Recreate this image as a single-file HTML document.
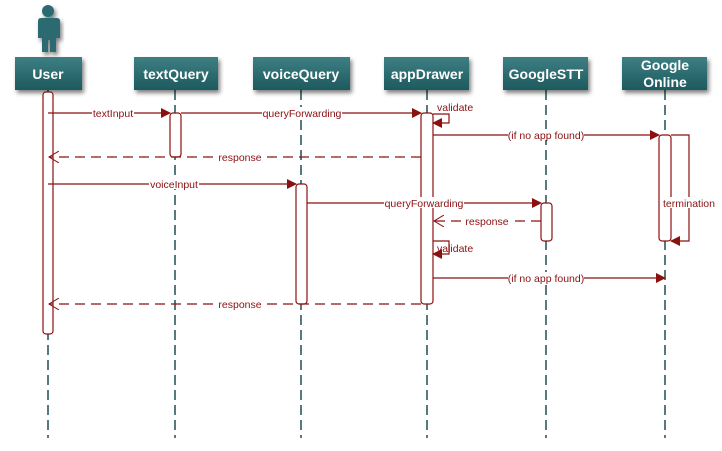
<!DOCTYPE html>
<html><head><style>body{margin:0;background:#fff}svg{display:block}</style></head><body>
<svg width="722" height="451" viewBox="0 0 722 451" font-family="Liberation Sans, sans-serif">
<defs>
<linearGradient id="g" x1="0" y1="0" x2="0" y2="1"><stop offset="0" stop-color="#3d7f83"/><stop offset="1" stop-color="#1d5a5e"/></linearGradient>
<filter id="s" x="-20%" y="-20%" width="140%" height="160%"><feDropShadow dx="2" dy="3" stdDeviation="2" flood-color="#000" flood-opacity="0.5"/></filter>
<marker id="a" markerWidth="10" markerHeight="10" refX="9" refY="5" orient="auto" markerUnits="userSpaceOnUse"><path d="M0,0L10,5L0,10z" fill="#8b1010"/></marker>
<marker id="o" markerWidth="12" markerHeight="12" refX="10" refY="6" orient="auto" markerUnits="userSpaceOnUse"><path d="M0,0L10,6L0,12" fill="none" stroke="#8b1010"/></marker>
</defs>
<g stroke="#1f4f52" stroke-width="1.5" stroke-dasharray="10,5">
<line x1="48" y1="90" x2="48" y2="438"/><line x1="175" y1="90" x2="175" y2="438"/><line x1="301" y1="90" x2="301" y2="438"/><line x1="427" y1="90" x2="427" y2="438"/><line x1="546" y1="90" x2="546" y2="438"/><line x1="665" y1="90" x2="665" y2="438"/>
</g>
<g fill="#2a6b70" filter="url(#s)">
<circle cx="48" cy="11" r="6"/><path d="M39,18h18q3,0 3,3v17h-4v14h-6v-12h-2v12h-6v-14h-4v-17q0,-3 3,-3z"/>
</g>
<g fill="url(#g)" filter="url(#s)">
<rect x="15" y="57" width="67" height="33"/><rect x="134" y="57" width="84" height="33"/><rect x="253" y="57" width="97" height="33"/><rect x="384" y="57" width="85" height="33"/><rect x="503" y="57" width="85" height="33"/><rect x="622" y="57" width="85" height="33"/>
</g>
<g fill="#fff" font-weight="bold" font-size="14" text-anchor="middle">
<text x="48" y="79">User</text><text x="176" y="79">textQuery</text><text x="301" y="79">voiceQuery</text><text x="427" y="79">appDrawer</text><text x="546" y="79">GoogleSTT</text><text x="665" y="70">Google</text><text x="665" y="87">Online</text>
</g>
<g fill="#fff" stroke="#8b1010" stroke-width="1.2">
<rect x="43" y="92" width="10" height="242" rx="3"/><rect x="170" y="113" width="11" height="44" rx="3"/><rect x="296" y="184" width="11" height="120" rx="3"/><rect x="421" y="113" width="12" height="191" rx="3"/><rect x="541" y="203" width="11" height="38" rx="3"/><rect x="659" y="135" width="12" height="106" rx="3"/>
</g>
<g stroke="#8b1010" stroke-width="1.2" fill="none">
<line x1="48" y1="113" x2="170" y2="113" marker-end="url(#a)"/>
<line x1="181" y1="113" x2="421" y2="113" marker-end="url(#a)"/>
<path d="M433,114h16v9h-16" marker-end="url(#a)"/>
<line x1="433" y1="135" x2="659" y2="135" marker-end="url(#a)"/>
<line x1="421" y1="157" x2="49" y2="157" stroke-dasharray="10,6" marker-end="url(#o)"/>
<line x1="48" y1="184" x2="296" y2="184" marker-end="url(#a)"/>
<line x1="307" y1="203" x2="541" y2="203" marker-end="url(#a)"/>
<line x1="541" y1="221" x2="434" y2="221" stroke-dasharray="10,6" marker-end="url(#o)"/>
<path d="M433,241h16v13h-16" marker-end="url(#a)"/>
<line x1="433" y1="278" x2="665" y2="278" marker-end="url(#a)"/>
<line x1="421" y1="304" x2="49" y2="304" stroke-dasharray="10,6" marker-end="url(#o)"/>
<path d="M671,135h18v106h-18" marker-end="url(#a)"/>
</g>
<g fill="#8b1010" font-size="10.5" text-anchor="middle">
<g fill="#fff" stroke="none"><rect x="92" y="107" width="42" height="11"/><rect x="262" y="107" width="80" height="11"/><rect x="508" y="129" width="76" height="11"/><rect x="217" y="151" width="46" height="11"/><rect x="149" y="178" width="50" height="11"/><rect x="384" y="197" width="80" height="11"/><rect x="464" y="215" width="46" height="11"/><rect x="508" y="272" width="76" height="11"/><rect x="217" y="298" width="46" height="11"/><rect x="662" y="197" width="56" height="11"/></g>
<text x="113" y="117">textInput</text><text x="302" y="117">queryForwarding</text><text x="437" y="111" text-anchor="start">validate</text>
<text x="546" y="139">(if no app found)</text><text x="240" y="161">response</text><text x="174" y="188">voiceInput</text>
<text x="424" y="207">queryForwarding</text><text x="487" y="225">response</text><text x="437" y="252" text-anchor="start">validate</text>
<text x="546" y="282">(if no app found)</text><text x="240" y="308">response</text><text x="689" y="207">termination</text>
</g>
</svg>
</body></html>
